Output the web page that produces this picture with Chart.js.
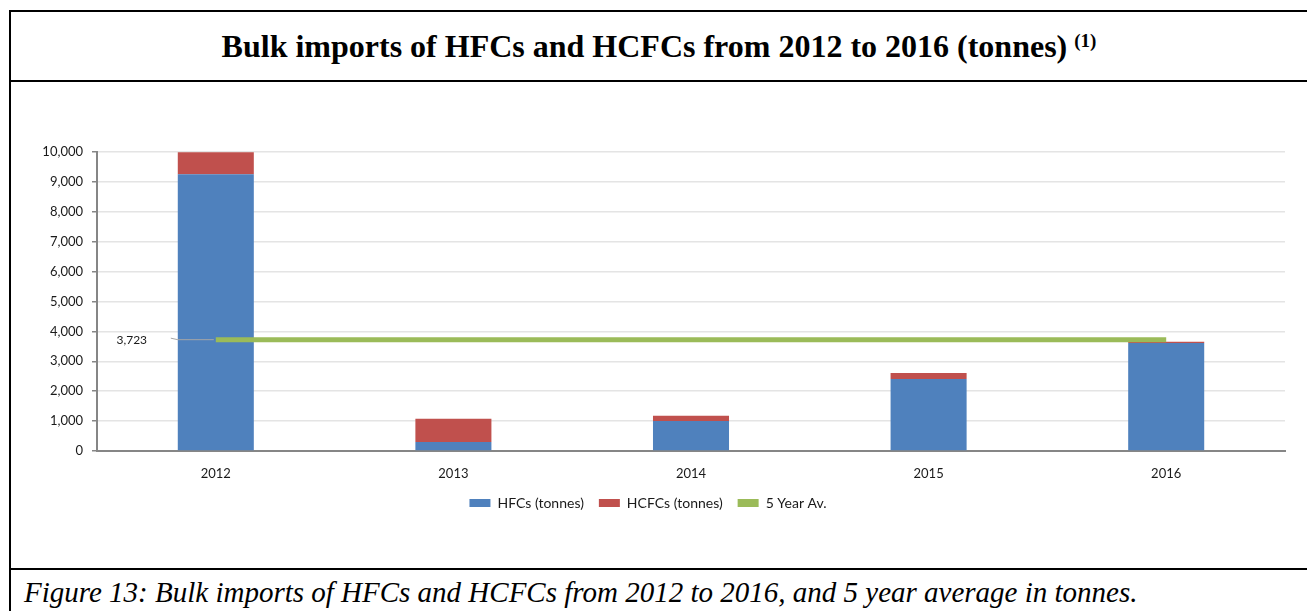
<!DOCTYPE html>
<html>
<head>
<meta charset="utf-8">
<script src="https://cdn.jsdelivr.net/npm/chart.js@4.4.1/dist/chart.umd.min.js"></script>
<style>
  html, body { margin: 0; padding: 0; background: #fff; overflow: hidden; }
  #frame {
    position: absolute; left: 9px; top: 10px; width: 1296px; height: 620px;
    border-left: 2px solid #000; border-top: 2px solid #000;
  }
  #title {
    height: 68px; border-bottom: 2px solid #000;
    display: flex; align-items: center; justify-content: center;
    font: bold 32px "Liberation Serif", "Times New Roman", serif; color: #000;
  }
  #title sup { font-size: 19px; margin-left: 7px; position: relative; top: -5px; }
  #chartBox { position: relative; width: 1296px; height: 486px; border-bottom: 2px solid #000; }
  #caption {
    padding: 6px 0 0 13px;
    font: italic 29px "Liberation Serif", "Times New Roman", serif; color: #000;
  }
</style>
</head>
<body>
<div id="frame">
  <div id="title">Bulk imports of HFCs and HCFCs from 2012 to 2016 (tonnes)<sup>(1)</sup></div>
  <div id="chartBox"><canvas id="chart" width="1296" height="486"></canvas></div>
  <div id="caption">Figure 13: Bulk imports of HFCs and HCFCs from 2012 to 2016, and 5 year average in tonnes.</div>
</div>
<script>
const years = ["2012", "2013", "2014", "2015", "2016"];
const hfcs = [9260, 300, 1005, 2405, 3615];
const hcfcs = [730, 775, 170, 200, 35];
const fiveYearAvg = [3723, 3723, 3723, 3723, 3723];
const yTicks = [0, 1000, 2000, 3000, 4000, 5000, 6000, 7000, 8000, 9000, 10000];

const COLORS = {
  HFC: "#4F81BD",
  HCFC: "#C0504D",
  AVG: "#9BBB59",
  GRID: "#E4E4E4",
  AXIS: "#868686",
  TEXT: "#1A1A1A"
};

const FONT = "Lato, 'Liberation Sans', sans-serif";

// label "3,723" with a little leader line, left of the first average point
const avgLabelPlugin = {
  id: "avgLabel",
  afterDatasetsDraw(chart) {
    const meta = chart.getDatasetMeta(2);
    const p = meta.data[0];
    if (!p) {
      return;
    }
    const ctx = chart.ctx;
    ctx.save();
    ctx.strokeStyle = "#A6A6A6";
    ctx.lineWidth = 1;
    ctx.beginPath();
    ctx.moveTo(p.x - 45, p.y - 1.5);
    ctx.lineTo(p.x - 38, p.y);
    ctx.lineTo(p.x - 2, p.y);
    ctx.stroke();
    ctx.fillStyle = COLORS.TEXT;
    ctx.font = "12px " + FONT;
    ctx.textAlign = "center";
    ctx.textBaseline = "middle";
    ctx.fillText(fiveYearAvg[0].toLocaleString("en-US"), p.x - 84, p.y);
    ctx.restore();
  }
};

new Chart(document.getElementById("chart").getContext("2d"), {
  type: "bar",
  data: {
    labels: years,
    datasets: [
      {
        label: "HFCs (tonnes)",
        data: hfcs,
        backgroundColor: COLORS.HFC,
        stack: "imports",
        order: 1,
        categoryPercentage: 1,
        barPercentage: 0.32
      },
      {
        label: "HCFCs (tonnes)",
        data: hcfcs,
        backgroundColor: COLORS.HCFC,
        stack: "imports",
        order: 2,
        categoryPercentage: 1,
        barPercentage: 0.32
      },
      {
        type: "line",
        label: "5 Year Av.",
        data: fiveYearAvg,
        borderColor: COLORS.AVG,
        backgroundColor: COLORS.AVG,
        borderWidth: 5,
        pointRadius: 0,
        stack: "avg",
        order: 0
      }
    ]
  },
  options: {
    responsive: false,
    animation: false,
    layout: {
      padding: { top: 70, right: 22, left: 0, bottom: 48 }
    },
    plugins: {
      tooltip: { enabled: false },
      legend: {
        position: "bottom",
        labels: {
          boxWidth: 21,
          boxHeight: 8,
          padding: 15,
          color: COLORS.TEXT,
          font: { family: FONT, size: 14 },
          sort: (a, b) => a.datasetIndex - b.datasetIndex,
          generateLabels(chart) {
            const items = Chart.defaults.plugins.legend.labels.generateLabels(chart);
            items.forEach((item) => {
              item.lineWidth = 0;
            });
            return items;
          }
        }
      }
    },
    scales: {
      x: {
        stacked: true,
        grid: { display: false },
        border: { color: COLORS.AXIS, width: 2 },
        ticks: {
          color: COLORS.TEXT,
          font: { family: FONT, size: 13 },
          padding: 7
        },
        afterFit(scale) {
          scale.height = 30;
        }
      },
      y: {
        stacked: true,
        min: 0,
        max: 10000,
        afterBuildTicks(scale) {
          scale.ticks = yTicks.map((v) => ({ value: v }));
        },
        grid: {
          color: COLORS.GRID,
          lineWidth: 1.5,
          tickColor: COLORS.AXIS,
          tickLength: 5
        },
        border: { color: COLORS.AXIS, width: 2 },
        ticks: {
          color: COLORS.TEXT,
          font: { family: FONT, size: 13 },
          padding: 9,
          callback: (v) => v.toLocaleString("en-US")
        },
        afterFit(scale) {
          scale.width = 86;
        }
      }
    }
  },
  plugins: [avgLabelPlugin]
});
</script>
</body>
</html>
